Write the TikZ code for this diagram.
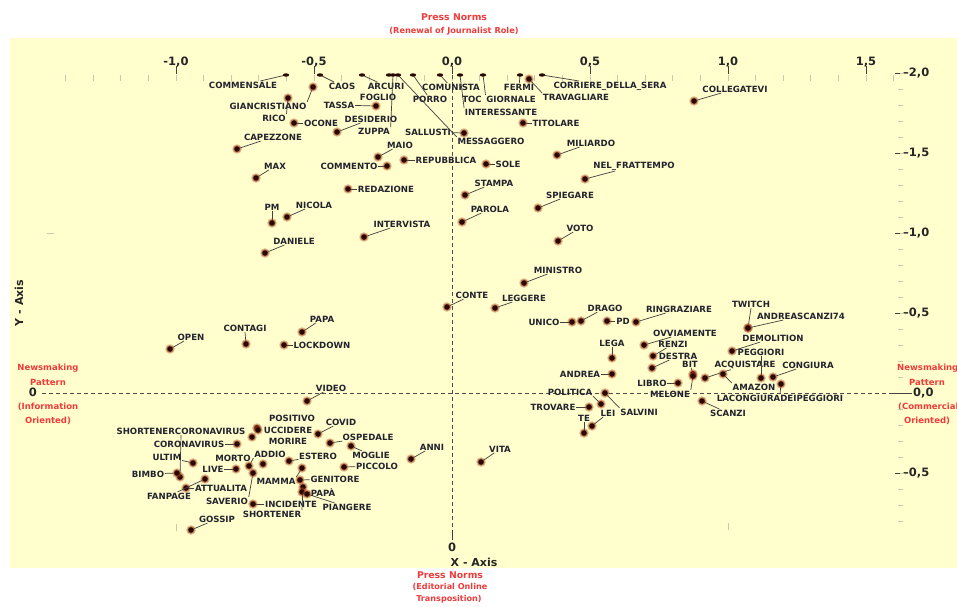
\documentclass[tikz,border=0pt]{standalone}
\usepackage{fontspec}
\setmainfont{DejaVu Sans}
\definecolor{bgy}{RGB}{255,254,204}
\definecolor{redt}{RGB}{238,60,60}
\definecolor{labc}{RGB}{35,35,48}
\definecolor{dotc}{RGB}{40,8,0}
\definecolor{haloc}{RGB}{175,70,35}
\definecolor{tickc}{RGB}{200,200,170}
\tikzset{
 lab/.style={font=\fontsize{8.6}{9}\selectfont\bfseries, text=labc, inner sep=0.6pt},
 lead/.style={draw=black!75, line width=0.7pt},
 axlab/.style={font=\fontsize{11.5}{12}\selectfont\bfseries, text=black!85, inner sep=0pt},
 redlab/.style={font=\fontsize{8.5}{9}\selectfont\bfseries, text=redt, inner sep=0pt},
 redtitle/.style={font=\fontsize{9.3}{10}\selectfont\bfseries, text=redt, inner sep=0pt},
 zeroline/.style={draw=black!70, line width=0.8pt, dash pattern=on 4pt off 3pt},
 minortick/.style={draw=tickc, line width=0.8pt},
 majortick/.style={draw=black!75, line width=0.8pt},
}
\newcommand\mydot[1]{\fill[haloc,opacity=0.35] (#1) circle (4.8pt); \fill[haloc,opacity=0.5] (#1) circle (3.8pt); \fill[dotc] (#1) circle (2.8pt);}
\newcommand\topdot[1]{\fill[dotc] (#1) ellipse (3.2pt and 1.7pt);}
% [anchor]{name}{dot}{label}{text}
\newcommand\dlab[5][]{%
  \coordinate (#2d) at (#3);
  \node[lab] (#2) at (#4) {#5};
  \if\relax\detokenize{#1}\relax \draw[lead] (#2) -- (#2d); \else \draw[lead] (#2.#1) -- (#2d); \fi
  \mydot{#2d}}
\newcommand\tdlab[5][]{%
  \coordinate (#2d) at (#3);
  \node[lab] (#2) at (#4) {#5};
  \if\relax\detokenize{#1}\relax \draw[lead] (#2) -- (#2d); \else \draw[lead] (#2.#1) -- (#2d); \fi
  \topdot{#2d}}
\newcommand\ndlab[4]{%
  \coordinate (#1d) at (#2);
  \node[lab] (#1) at (#3) {#4};
  \mydot{#1d}}
\newcommand\tndlab[4]{%
  \coordinate (#1d) at (#2);
  \node[lab] (#1) at (#3) {#4};
  \topdot{#1d}}
\begin{document}
\begin{tikzpicture}[x=1pt,y=-1pt]
\useasboundingbox (0,0) rectangle (957,606);
\fill[white] (0,0) rectangle (957,606);
\fill[bgy] (10,38) rectangle (957,568);
% titles
\node[redtitle] (tt1) at (454,17) {Press Norms};
\node[redlab,font=\fontsize{8.2}{9}\selectfont\bfseries] (tt2) at (454,31) {(Renewal of Journalist Role)};
\node[redtitle] (bt1) at (450,575) {Press Norms};
\node[redlab,font=\fontsize{8.1}{9}\selectfont\bfseries] (bt2) at (450,587) {(Editorial Online};
\node[redlab,font=\fontsize{8.1}{9}\selectfont\bfseries] (bt3) at (449,599) {Transposition)};
\node[redlab] (l1) at (48,368) {Newsmaking};
\node[redlab] (l2) at (48,382) {Pattern};
\node[redlab] (l3) at (48,407) {(Information};
\node[redlab] (l4) at (48,421) {Oriented)};
\node[redlab,anchor=west] (r1) at (897,368) {Newsmaking};
\node[redlab] (r2) at (927,382) {Pattern};
\node[redlab,anchor=west] (r3) at (898,407) {(Commercial};
\node[redlab] (r4) at (927,421) {Oriented)};
\node[axlab,font=\fontsize{11}{12}\selectfont\bfseries] (xax) at (474,562) {X - Axis};
\node[axlab,font=\fontsize{11}{12}\selectfont\bfseries,rotate=90] (yax) at (19,303) {Y - Axis};
% top axis
\foreach \k in {-14,...,16} { \draw[minortick] ({452+27.6*\k},75) -- ({452+27.6*\k},81); }
\foreach \xv/\tx in {176/-1{,}0, 314/-0{,}5, 452/0{,}0, 590/0{,}5, 728/1{,}0, 866/1{,}5} {
  \node[axlab] at (\xv,62) {\tx};
  \draw[majortick] (\xv,66) -- (\xv,74);
}
% right axis
\foreach \j in {0,...,28} { \draw[minortick] (898,{73+16*\j}) -- (903,{73+16*\j}); }
\foreach \yv/\tx in {73/--2{,}0, 153/--1{,}5, 233/--1{,}0, 313/--0{,}5, 473/--0{,}5} {
  \draw[majortick] (895,\yv) -- (900,\yv);
  \node[axlab,anchor=west] at (903,\yv) {\tx};
}
\draw[majortick] (892,393) -- (912,393);
\node[axlab,anchor=west] (yzero) at (913,393) {0,0};
% faint marks
\draw[minortick] (176,524) -- (176,531);
\draw[minortick] (728,523) -- (728,530);
\draw[minortick] (47,233) -- (54,233);
% zero lines
\node[axlab] (lzero) at (33,392) {0};
\draw[zeroline] (42,393) -- (892,393);
\draw[zeroline] (452,75) -- (452,530);
\draw[majortick] (452,530) -- (452,540);
\node[axlab] (bzero) at (452,547) {0};
% ---- data points ----
\tdlab{commensale}{286,75}{243,85}{COMMENSALE}
\dlab[north east]{giancristiano}{313,87}{268,106}{GIANCRISTIANO}
\dlab[north east]{rico}{288,98}{274,118}{RICO}
\tdlab{caos}{320,75}{342,86}{CAOS}
\tdlab{arcuri}{362,75}{386,86}{ARCURI}
\tndlab{foglio}{389,75}{378,97}{FOGLIO}
\dlab{tassa}{376,106}{339,105}{TASSA}
\dlab{desiderio}{337,132}{371,119}{DESIDERIO}
\tdlab[north east]{zuppa}{393,75}{374,131}{ZUPPA}
\dlab{ocone}{294,123}{321,123}{OCONE}
\dlab{capezzone}{237,149}{273,137}{CAPEZZONE}
\dlab{max}{256,178}{275,166}{MAX}
\dlab{maio}{378,157}{400,145}{MAIO}
\dlab{commento}{387,166}{349,166}{COMMENTO}
\dlab{repubblica}{404,160}{446,160}{REPUBBLICA}
\dlab{redazione}{348,189}{386,189}{REDAZIONE}
\dlab{sallusti}{464,133}{428,132}{SALLUSTI}
\tdlab[north west]{messaggero}{398,75}{491,141}{MESSAGGERO}
\tdlab{porro}{413,75}{430,99}{PORRO}
\tdlab{comunista}{440,75}{451,87}{COMUNISTA}
\node[lab] (toc) at (472,99) {TOC};
\tdlab[north west]{giornale}{483,75}{511,99}{GIORNALE}
\tdlab[north west]{interessante}{460,75}{501,112}{INTERESSANTE}
\tdlab{fermi}{520,75}{519,87}{FERMI}
\dlab[north west]{travagliare}{529,79}{576,97}{TRAVAGLIARE}
\tdlab{corriere}{542,75}{610,86}{CORRIERE\_DELLA\_SERA}
\dlab{titolare}{523,123}{556,123}{TITOLARE}
\dlab{sole}{486,164}{508,164}{SOLE}
\dlab{miliardo}{557,155}{591,143}{MILIARDO}
\dlab{collegatevi}{694,101}{735,89}{COLLEGATEVI}
\dlab{nelfrattempo}{585,179}{634,166}{NEL\_FRATTEMPO}
\dlab{stampa}{465,195}{494,183}{STAMPA}
\dlab{spiegare}{538,208}{570,195}{SPIEGARE}
\dlab{parola}{462,222}{490,209}{PAROLA}
\dlab{voto}{558,241}{580,228}{VOTO}
\dlab{ministro}{524,283}{558,270}{MINISTRO}
\dlab{leggere}{495,308}{524,298}{LEGGERE}
\dlab{conte}{447,307}{472,295}{CONTE}
\dlab{drago}{581,321}{605,308}{DRAGO}
\dlab{unico}{572,322}{544,322}{UNICO}
\dlab{pd}{607,321}{623,321}{PD}
\dlab{ringraziare}{636,322}{679,309}{RINGRAZIARE}
\dlab[south]{lega}{612,358}{612,343}{LEGA}
\dlab{andrea}{612,374}{580,374}{ANDREA}
\dlab{ovviamente}{644,345}{685,333}{OVVIAMENTE}
\dlab{renzi}{653,356}{673,344}{RENZI}
\dlab{destra}{652,368}{678,356}{DESTRA}
\dlab{bit}{693,374}{690,364}{BIT}
\dlab[north east]{melone}{693,376}{670,394}{MELONE}
\dlab{libro}{678,383}{652,383}{LIBRO}
\dlab{acquistare}{705,378}{745,365}{ACQUISTARE}
\dlab[north west]{amazon}{723,374}{754,387}{AMAZON}
\dlab[south]{twitch}{748,328}{751,304}{TWITCH}
\dlab{andreascanzi}{748,328}{801,316}{ANDREASCANZI74}
\dlab{demolition}{732,351}{773,338}{DEMOLITION}
\dlab[south]{peggiori}{761,378}{761,352}{PEGGIORI}
\dlab{congiura}{773,377}{808,365}{CONGIURA}
\dlab[north]{lacongiura}{781,384}{780,398}{LACONGIURADEIPEGGIORI}
\dlab{scanzi}{702,401}{728,413}{SCANZI}
\dlab[south east]{politica}{601,404}{570,392}{POLITICA}
\dlab[north west]{salvini}{605,393}{639,412}{SALVINI}
\dlab{trovare}{589,407}{553,407}{TROVARE}
\dlab{lei}{592,426}{608,413}{LEI}
\dlab[south]{te}{584,433}{584,418}{TE}
\dlab{open}{170,349}{191,337}{OPEN}
\dlab[south]{contagi}{246,344}{245,328}{CONTAGI}
\dlab{papa}{302,332}{322,319}{PAPA}
\dlab{lockdown}{284,345}{322,345}{LOCKDOWN}
\dlab[south]{pm}{272,223}{272,207}{PM}
\dlab{nicola}{287,217}{314,205}{NICOLA}
\dlab{intervista}{364,237}{402,224}{INTERVISTA}
\dlab{daniele}{265,253}{294,241}{DANIELE}
\dlab{video}{307,401}{331,388}{VIDEO}
\dlab[south]{shortcorona}{180,477}{181,431}{SHORTENERCORONAVIRUS}
\dlab{bimbo}{177,473}{148,474}{BIMBO}
\dlab{coronavirus}{237,444}{189,444}{CORONAVIRUS}
\dlab{ultim}{193,463}{167,457}{ULTIM}
\dlab{live}{236,469}{213,469}{LIVE}
\dlab{attualita}{186,488}{221,488}{ATTUALITA}
\dlab{fanpage}{205,479}{169,496}{FANPAGE}
\dlab{gossip}{191,530}{217,519}{GOSSIP}
\ndlab{morto}{263,464}{233,458}{MORTO}
\dlab[south west]{addio}{249,466}{270,454}{ADDIO}
\dlab[north east]{saverio}{253,473}{227,501}{SAVERIO}
\dlab{incidente}{253,504}{291,504}{INCIDENTE}
\dlab[north east]{shortener}{303,487}{272,514}{SHORTENER}
\dlab[north east]{mamma}{302,468}{276,481}{MAMMA}
\dlab{genitore}{300,480}{335,479}{GENITORE}
\dlab{papaacc}{302,492}{323,492}{PAPÀ}
\dlab{piangere}{307,494}{347,507}{PIANGERE}
\dlab{estero}{289,461}{318,456}{ESTERO}
\ndlab{positivo}{257,428}{292,418}{POSITIVO}
\ndlab{uccidere}{258,430}{288,430}{UCCIDERE}
\ndlab{morire}{252,437}{288,441}{MORIRE}
\dlab{covid}{318,434}{341,422}{COVID}
\dlab{ospedale}{330,443}{368,437}{OSPEDALE}
\dlab{moglie}{351,446}{371,455}{MOGLIE}
\dlab{piccolo}{344,467}{377,466}{PICCOLO}
\dlab{anni}{411,459}{432,447}{ANNI}
\dlab{vita}{481,462}{500,449}{VITA}
\end{tikzpicture}
\end{document}
